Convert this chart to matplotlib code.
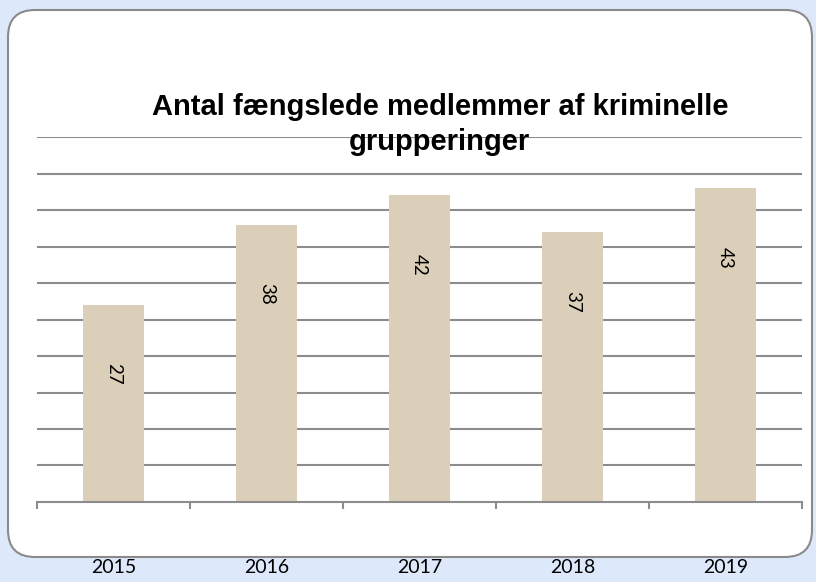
import numpy as np
import matplotlib.pyplot as plt
from matplotlib.patches import FancyBboxPatch

years = ["2015", "2016", "2017", "2018", "2019"]
values = [27, 38, 42, 37, 43]
title = "Antal fængslede medlemmer af kriminelle\ngrupperinger"

bg_color = "#dde9fa"
bar_color = "#dbcfb9"
line_color = "#8c8c8c"

fig = plt.figure(figsize=(8.16, 5.82), dpi=100)
fig.patch.set_facecolor(bg_color)

# white rounded panel behind the chart
panel = FancyBboxPatch((0.08, 0.25), 8.04, 5.47,
                       boxstyle="round,pad=0,rounding_size=0.27",
                       transform=fig.dpi_scale_trans,
                       facecolor="white", edgecolor="#8a8a8a", lw=1.5, zorder=0)
fig.add_artist(panel)

ax = fig.add_axes([0.0453, 0.1375, 0.9375, 0.627])
ax.set_zorder(1)
ax.patch.set_visible(False)

x = np.arange(len(years))
ax.bar(x, values, width=0.4, color=bar_color, zorder=2)

for xi, v in zip(x, values):
    ax.annotate(str(v), (xi, v), xytext=(0, -50), textcoords="offset points",
                rotation=270, ha="center", va="center",
                fontsize=13.5, family="Lato", color="black", zorder=3)

ax.set_xlim(-0.5, len(years) - 0.5)
ax.set_ylim(0, 50)
ax.set_yticks(np.arange(5, 51, 5))
ax.yaxis.grid(True, color=line_color, lw=1.5, zorder=1)
ax.tick_params(axis="y", left=False, labelleft=False)

ax.set_xticks(x)
ax.set_xticklabels(years, family="Lato", fontsize=14)
ax.set_xticks(np.arange(-0.5, len(years), 1), minor=True)
ax.tick_params(axis="x", which="major", length=0, pad=41)
ax.tick_params(axis="x", which="minor", length=5, width=1.5, color=line_color)

for s in ["top", "left", "right"]:
    ax.spines[s].set_visible(False)
ax.spines["bottom"].set_color(line_color)
ax.spines["bottom"].set_linewidth(1.5)

fig.text(0.539, 0.786, title, ha="center", va="center", linespacing=1.33,
         fontsize=21, fontweight="bold", family="Liberation Sans", zorder=5)

fig.savefig("out.png", dpi=100, facecolor=bg_color)
